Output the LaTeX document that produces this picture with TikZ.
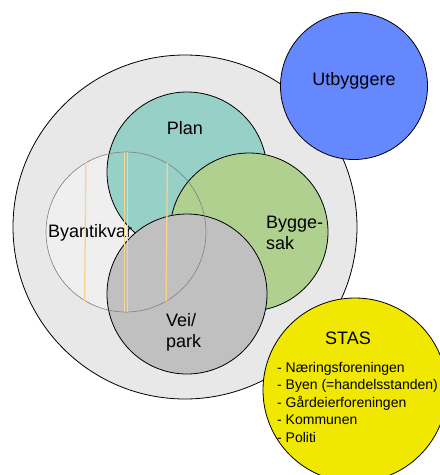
\documentclass[tikz,border=0pt]{standalone}
\usepackage{fontspec}
\setmainfont{Liberation Sans}
\definecolor{plancol}{RGB}{150,208,198}
\definecolor{byggcol}{RGB}{176,208,144}
\definecolor{veicol}{RGB}{192,192,192}
\definecolor{outercol}{RGB}{232,232,232}
\definecolor{utbcol}{RGB}{102,136,255}
\definecolor{stascol}{RGB}{240,232,0}
\definecolor{chordcol}{RGB}{250,210,140}
\begin{document}
\begin{tikzpicture}[x=1pt,y=-1pt,
    ring/.style={circle,draw=black,line width=0.8pt,inner sep=0pt,minimum size=#1},
    lbl/.style={font=\fontsize{18}{21}\selectfont,inner sep=0pt},
    chord/.style={draw=chordcol,line width=1.3pt}]
  \useasboundingbox (0,0) rectangle (440,475);
  \clip (0,0) rectangle (440,475);
  \node[ring=344pt,fill=outercol] (kommune) at (185,227) {};
  \node[ring=160pt,draw=none,fill=white!30!outercol] (byantfill) at (126,232) {};
  \node[ring=160pt,fill=plancol] (plan) at (187,172) {};
  \node[ring=158pt,fill=byggcol] (bygg) at (249,232) {};
  \node[lbl,anchor=west] (byanttxt) at (48,233) {Byantikvar};
  \node[ring=160pt,fill=veicol] (vei) at (187,294) {};
  \node[ring=160pt,draw=gray,line width=0.6pt] (byant) at (126,232) {};
  \draw[chord] (byant.120.8) -- (byant.239.2);
  \draw[chord] (byant.59.2) -- (byant.300.8);
  \draw[chord,line width=0.9pt] ([xshift=-1.2pt]byant.north) -- ([xshift=-1.2pt]byant.south);
  \draw[chord,line width=0.9pt] ([xshift=1.2pt]byant.north) -- ([xshift=1.2pt]byant.south);
  \node[lbl] (plantxt) at (185,128) {Plan};
  \node[lbl,anchor=west,align=left] (byggtxt) at (266,233) {Bygge-\\sak};
  \node[lbl,anchor=west,align=left] (veitxt) at (166,332) {Vei/\\park};
  \node[ring=147pt,fill=utbcol] (utb) at (354,86) {};
  \node[lbl] (utbtxt) at (354,81) {Utbyggere};
  \node[ring=184pt,fill=stascol] (stas) at (355,390) {};
  \node[lbl] (stastxt) at (348,338) {STAS};
  \node[font=\fontsize{14}{17.5}\selectfont,inner sep=0pt,anchor=west,align=left] (stasliste) at (277,402)
    {- Næringsforeningen\\- Byen (=handelsstanden)\\- Gårdeierforeningen\\- Kommunen\\- Politi};
\end{tikzpicture}
\end{document}
